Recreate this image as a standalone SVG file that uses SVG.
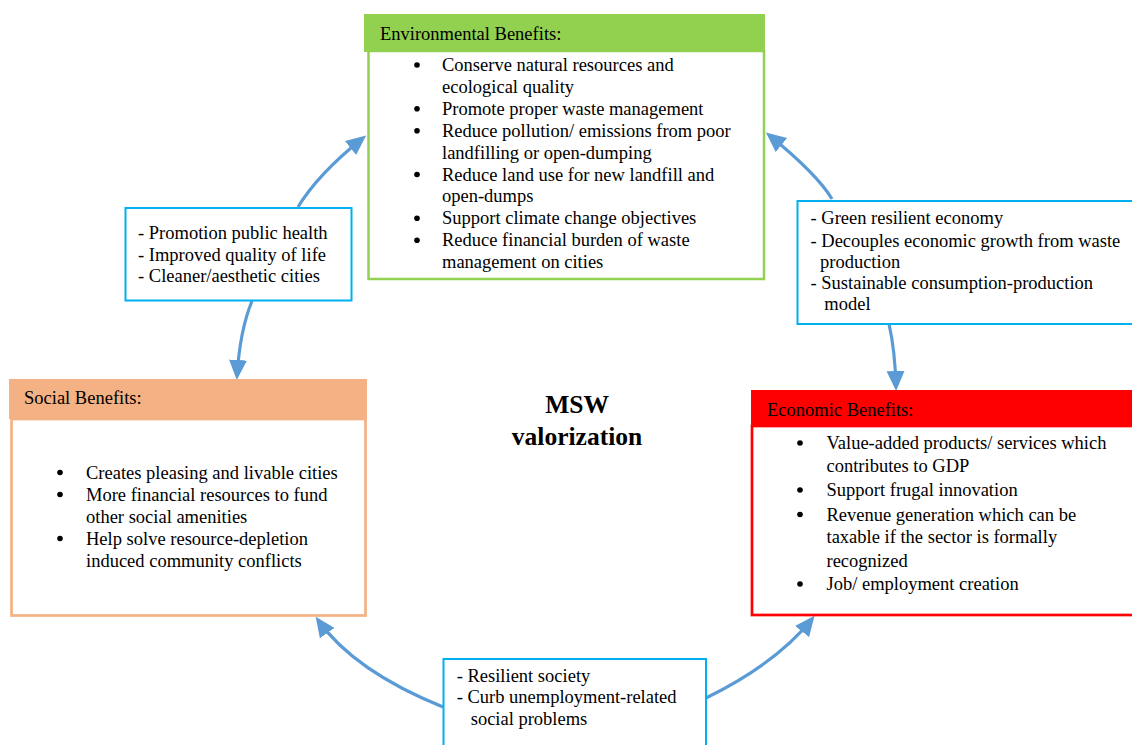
<svg xmlns="http://www.w3.org/2000/svg" width="1132" height="745" viewBox="0 0 1132 745">
<style>
text{font-family:"Liberation Serif","Times New Roman",serif;font-size:18.5px;fill:#000}
.title{font-weight:bold;font-size:25.5px;text-anchor:middle}
.lbl{fill:#fff;stroke:#00B0F0;stroke-width:2}
.conn{fill:none;stroke:#5B9BD5;stroke-width:3.2}
</style>
<defs>
<marker id="ah" viewBox="0 0 20 20" refX="16" refY="10" markerWidth="20" markerHeight="20" markerUnits="userSpaceOnUse" orient="auto">
<path d="M0,1 L20,10 L0,19 Z" fill="#5B9BD5"/>
</marker>
<circle id="dot" r="2.8" fill="#000"/>
</defs>
<rect width="1132" height="745" fill="#fff"/>

<g id="connectors">
<path class="conn" d="M298,207 Q318,174 363,138" marker-end="url(#ah)"/>
<path class="conn" d="M832,199 Q817,174 769,135" marker-end="url(#ah)"/>
<path class="conn" d="M252,301 Q240,330 237,376" marker-end="url(#ah)"/>
<path class="conn" d="M889,324 Q895,350 896,387" marker-end="url(#ah)"/>
<path class="conn" d="M443,707 Q354,671 318,620" marker-end="url(#ah)"/>
<path class="conn" d="M706,698 Q777,663 812,619" marker-end="url(#ah)"/>
</g>

<g id="env">
<rect x="368.5" y="51" width="395.5" height="228" fill="#fff" stroke="#92D050" stroke-width="2.5"/>
<rect x="364" y="14" width="401" height="38" fill="#92D050"/>
<text x="380" y="40">Environmental Benefits:</text>
<use href="#dot" x="417" y="65"/><text x="442" y="71">Conserve natural resources and</text>
<text x="442" y="92.9">ecological quality</text>
<use href="#dot" x="417" y="108.8"/><text x="442" y="114.8">Promote proper waste management</text>
<use href="#dot" x="417" y="130.7"/><text x="442" y="136.7">Reduce pollution/ emissions from poor</text>
<text x="442" y="158.6">landfilling or open-dumping</text>
<use href="#dot" x="417" y="174.5"/><text x="442" y="180.5">Reduce land use for new landfill and</text>
<text x="442" y="202.4">open-dumps</text>
<use href="#dot" x="417" y="218.3"/><text x="442" y="224.3">Support climate change objectives</text>
<use href="#dot" x="417" y="240.2"/><text x="442" y="246.2">Reduce financial burden of waste</text>
<text x="442" y="268.1">management on cities</text>
</g>

<g id="social">
<rect x="11.5" y="419" width="354" height="196.5" fill="#fff" stroke="#F4B183" stroke-width="2.7"/>
<rect x="9" y="379" width="358" height="40" fill="#F4B183"/>
<text x="24" y="404">Social Benefits:</text>
<use href="#dot" x="60" y="472.5"/><text x="86" y="478.5">Creates pleasing and livable cities</text>
<use href="#dot" x="60" y="494.5"/><text x="86" y="500.5">More financial resources to fund</text>
<text x="86" y="522.5">other social amenities</text>
<use href="#dot" x="60" y="538.5"/><text x="86" y="544.5">Help solve resource-depletion</text>
<text x="86" y="566.5">induced community conflicts</text>
</g>

<g id="economic">
<rect x="752" y="426" width="390" height="189" fill="#fff" stroke="#FF0000" stroke-width="2.7"/>
<rect x="751" y="390" width="390" height="36" fill="#FF0000"/>
<text x="767" y="416">Economic Benefits:</text>
<use href="#dot" x="800" y="443"/><text x="826.5" y="449">Value-added products/ services which</text>
<text x="826.5" y="471.7">contributes to GDP</text>
<use href="#dot" x="800" y="490"/><text x="826.5" y="496">Support frugal innovation</text>
<use href="#dot" x="800" y="514.5"/><text x="826.5" y="520.5">Revenue generation which can be</text>
<text x="826.5" y="543.3">taxable if the sector is formally</text>
<text x="826.5" y="566.7">recognized</text>
<use href="#dot" x="800" y="584"/><text x="826.5" y="590">Job/ employment creation</text>
</g>

<g id="label-social-env">
<rect class="lbl" x="125.5" y="208" width="226" height="92.5"/>
<text x="138" y="239.3">- Promotion public health</text>
<text x="138" y="261">- Improved quality of life</text>
<text x="138" y="282.3">- Cleaner/aesthetic cities</text>
</g>

<g id="label-env-econ">
<rect class="lbl" x="797.5" y="201" width="345" height="123"/>
<text x="810.5" y="224.3">- Green resilient economy</text>
<text x="810.5" y="246.5">- Decouples economic growth from waste</text>
<text x="820" y="267.5">production</text>
<text x="810.5" y="289">- Sustainable consumption-production</text>
<text x="824.3" y="310">model</text>
</g>

<g id="label-econ-social">
<rect class="lbl" x="443.5" y="659" width="262.5" height="100"/>
<text x="456.7" y="681.7">- Resilient society</text>
<text x="456.7" y="703.3">- Curb unemployment-related</text>
<text x="470.7" y="725">social problems</text>
</g>

<g id="center">
<text class="title" x="577" y="413">MSW</text>
<text class="title" x="577" y="445">valorization</text>
</g>
</svg>
